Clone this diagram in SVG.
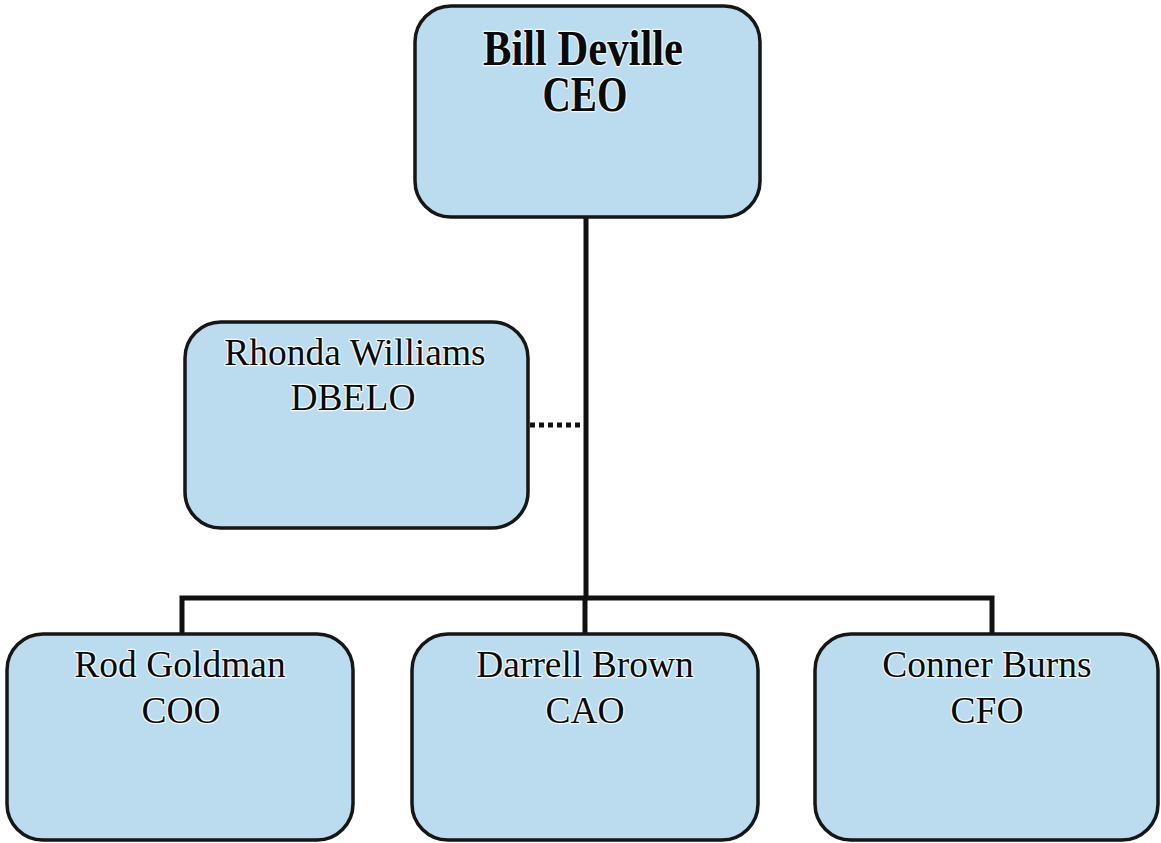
<svg xmlns="http://www.w3.org/2000/svg" width="1161" height="843" viewBox="0 0 1161 843">
<style>
.box{fill:#bbdcee;stroke:#161616;stroke-width:3.5}
.t{font-family:"Liberation Serif","Times New Roman",serif;font-size:37.5px;fill:#0a0a0a;text-anchor:middle;stroke:#f4fbff;stroke-width:2.5;paint-order:stroke;stroke-linejoin:round}
.b{font-weight:bold;font-size:51px}
.ln{fill:none;stroke:#111;stroke-width:5}
.dot{fill:none;stroke:#111;stroke-width:5;stroke-dasharray:5 4}
</style>
<rect width="1161" height="843" fill="#ffffff"/>
<g id="connectors">
<line class="ln" x1="586" y1="216" x2="586" y2="598"/>
<polyline class="ln" points="182,634 182,598 992,598 992,634"/>
<line class="ln" x1="585" y1="598" x2="585" y2="634"/>
<line class="dot" x1="530" y1="425" x2="584" y2="425"/>
</g>
<g id="ceo">
<rect class="box" x="415" y="6" width="345" height="211" rx="36"/>
<text class="t b" x="583" y="65" textLength="200" lengthAdjust="spacingAndGlyphs">Bill Deville</text>
<text class="t b" x="585" y="111" textLength="85" lengthAdjust="spacingAndGlyphs">CEO</text>
</g>
<g id="dbelo">
<rect class="box" x="185" y="322" width="343" height="206" rx="36"/>
<text class="t" x="355" y="365">Rhonda Williams</text>
<text class="t" x="353" y="410">DBELO</text>
</g>
<g id="coo">
<rect class="box" x="7" y="634" width="346" height="206" rx="36"/>
<text class="t" x="180" y="677">Rod Goldman</text>
<text class="t" x="181" y="723">COO</text>
</g>
<g id="cao">
<rect class="box" x="412" y="634" width="346" height="206" rx="36"/>
<text class="t" x="585" y="677">Darrell Brown</text>
<text class="t" x="585" y="723">CAO</text>
</g>
<g id="cfo">
<rect class="box" x="815" y="634" width="343" height="206" rx="36"/>
<text class="t" x="987" y="677">Conner Burns</text>
<text class="t" x="987" y="723">CFO</text>
</g>
</svg>
